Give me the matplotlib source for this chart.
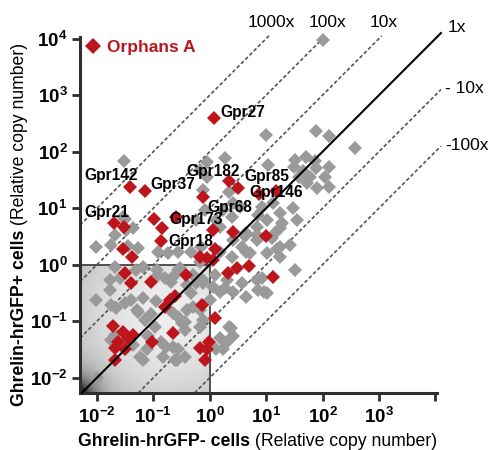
import numpy as np
import matplotlib
matplotlib.use("Agg")
import matplotlib.pyplot as plt
from matplotlib.lines import Line2D

plt.rcParams["font.family"] = ["Liberation Sans", "DejaVu Sans"]
plt.rcParams["mathtext.fontset"] = "custom"
plt.rcParams["mathtext.rm"] = "Liberation Sans"
plt.rcParams["mathtext.bf"] = "Liberation Sans:bold"
plt.rcParams["mathtext.it"] = "Liberation Sans:italic"

# log10 relative copy numbers
# (hrGFP- cells on x, hrGFP+ cells on y)
grey_neg = [2.00, -1.52, 0.99, 1.89, 2.11, 2.57, 0.27, 1.03, 1.52, 1.70,
            1.86, 1.50, 1.66, 1.89, 2.11, 1.77, 2.05, 1.91, 2.11, 1.73,
            1.59, 1.47, 1.24, 1.54, 0.92, 1.12, 0.85, 1.01, 0.83, 0.65,
            0.83, 1.24, 1.10, 1.24, 1.42, 0.58, 0.41, 0.18, 0.39, 0.53,
            0.23, 0.12, -0.12, -0.18, -0.05, 0.39, 0.71, 1.01, 1.24, 0.18,
            1.52, 0.92, 0.85, 0.97, 0.27, 0.09, -0.12, 0.00, -0.12, 0.37,
            0.18, 0.30, 0.23, 0.58, 0.62, 1.15, 1.29, 0.65, -1.50, -1.49,
            -2.02, -1.75, -1.45, -1.27, -0.92, -0.74, -0.57, -0.34, -0.16, -0.25,
            -0.09, -1.68, -1.36, -1.54, -1.68, -1.77, -1.59, -1.31, -1.19, -0.92,
            -0.80, -0.69, -0.57, -0.25, -2.02, -1.75, -1.66, -1.50, -1.40, -1.27,
            -1.04, -0.96, -1.15, -0.97, -0.57, -0.44, -0.34, -0.30, -1.75, -1.36,
            -1.24, -1.19, -0.87, -0.78, -0.57, -0.44, -0.44, -0.62, -2.00, -1.29,
            -1.19, -0.65, -0.41, -0.18, -0.50, -0.18, -1.10, -1.12, -0.65, -0.58,
            -0.83, -1.68, -1.47, 0.35, 0.41, 0.12, -0.94, -0.65, -0.53, -0.41,
            -0.30, -0.18, -0.12, 0.05, 0.18, 0.30, 0.41, 0.65, 0.83, 1.01,
            1.19, 0.83, -0.05, 0.41, 0.35, -1.77]
grey_pos = [3.98, 1.84, 2.30, 2.37, 2.27, 2.07, 1.88, 1.77, 1.86, 1.91,
            1.84, 1.73, 1.65, 1.72, 1.73, 1.56, 1.56, 1.35, 1.38, 1.45,
            1.56, 1.01, 0.92, 0.80, 1.03, 1.10, 0.88, 0.80, 0.67, 0.57,
            0.53, 0.65, 0.48, 0.32, 0.35, 0.32, 0.44, 0.67, 0.85, 1.03,
            0.97, 0.80, 1.33, 1.68, 1.56, 0.14, 0.21, 0.21, 0.14, 0.23,
            -0.09, -0.23, -0.44, -0.48, -0.42, -0.18, -0.27, -0.62, -0.97, -1.12,
            -1.29, -1.36, -1.50, -0.32, 0.50, 0.57, 0.74, 0.23, 0.81, 0.62,
            0.32, 0.35, 0.34, 0.30, 0.23, 0.21, 0.23, 0.23, 0.32, 0.80,
            0.97, 0.53, 0.65, 0.85, -0.04, -0.27, -0.23, -0.09, -0.04, -0.18,
            -0.23, -0.30, -0.09, -0.32, -0.62, -0.71, -0.76, -0.67, -0.62, -0.83,
            -0.88, -0.65, -0.97, -1.10, -0.92, -1.01, -0.50, -0.74, -1.33, -1.42,
            -1.63, -1.68, -1.36, -1.45, -1.50, -1.15, -1.63, -1.68, -2.00, -0.80,
            -0.58, -0.85, -0.80, -0.80, -1.03, -1.10, -1.27, -1.50, -1.45, -1.68,
            -1.63, -1.24, -1.45, -1.10, -1.27, -1.50, -0.09, -0.21, -0.05, -0.35,
            -0.18, 0.04, -0.32, -0.39, -0.48, -0.27, -0.48, -0.57, -0.27, -0.50,
            0.27, 0.44, 1.81, 1.10, 1.29, -0.44]

orphan_neg = [0.07, -1.42, -1.15, -1.70, -1.52, -0.99, -0.60, -0.85, -0.87, 0.34,
              0.51, -0.12, 0.87, 1.17, 0.05, 0.41, 0.99, 0.09, -0.18, -0.04,
              0.05, 0.32, 0.48, 0.69, 1.12, -0.14, 0.09, -0.18, -0.02, -0.09,
              -1.50, -1.40, -1.04, -0.42, -1.54, -1.38, -0.80, -0.71, -0.62, -1.72,
              -1.54, -1.45, -1.36, -1.63, -1.68, -1.50, -1.68, -1.03, -0.65, -0.05]
orphan_pos = [2.60, 1.38, 1.31, 0.74, 0.67, 0.81, 0.85, 0.65, 0.42, 1.49,
              1.35, 1.19, 1.26, 1.31, 0.62, 0.58, 0.50, 0.27, 0.14, 0.12,
              0.09, -0.14, -0.05, -0.02, -0.21, -0.71, -0.94, -1.47, -1.36, -1.68,
              -0.14, -0.32, -0.30, -0.18, 0.27, 0.14, -0.74, -0.62, -0.55, -1.08,
              -1.19, -1.29, -1.24, -1.36, -1.47, -1.49, -1.68, -1.36, -1.20, -1.50]

gene_names = ["Gpr27", "Gpr142", "Gpr37", "Gpr21", "Gpr173",
              "Gpr18", "Gpr182", "Gpr85", "Gpr146", "Gpr68"]
gene_text_x = [0.19, -2.23, -1.06, -2.23, -0.71, -0.73, -0.41, 0.62, 0.71, -0.05]
gene_text_y = [2.69, 1.58, 1.42, 0.92, 0.80, 0.41, 1.65, 1.56, 1.27, 1.01]

fold_changes = [1000, 100, 10, 1, 0.1, 0.01]
fold_names = ["1000x", "100x", "10x", "1x", "- 10x", "-100x"]

red = "#bd151c"
grey = "#9a9a9a"
dark = "#2e2e2e"
lo_x, lo_y, hi = -2.3, -2.27, 4.03
box_limit = 1.0

fig = plt.figure(figsize=(4.91, 4.50), dpi=100)
ax = fig.add_axes([80 / 491, 1 - 393 / 450, 357 / 491, 356 / 450])
ax.set_xscale("log")
ax.set_yscale("log")

# shaded "low expression" box with a radial gradient
fx = (np.log10(box_limit) - lo_x) / (hi - lo_x)
fy = (np.log10(box_limit) - lo_y) / (hi - lo_y)
u, v = np.meshgrid(np.linspace(0, 1, 200), np.linspace(0, 1, 200))
shade = 0.93 - 0.28 * np.hypot(u - 0.68, v - 0.62) ** 2
shade -= 0.8 * np.exp(-np.hypot(u, v) / 0.09)
ax.imshow(np.clip(shade, 0, 1), cmap="gray", vmin=0, vmax=1, origin="lower",
          extent=(0, fx, 0, fy), transform=ax.transAxes, aspect="auto",
          interpolation="bilinear", zorder=0)
ax.set_xlim(10 ** lo_x, 10 ** hi)
ax.set_ylim(10 ** lo_y, 10 ** hi)
ax.plot([10 ** lo_x, box_limit, box_limit], [box_limit, box_limit, 10 ** lo_y],
        color="#444444", lw=1.3, zorder=1)

# fold-change guide lines
for f, name in zip(fold_changes, fold_names):
    x0 = max(10 ** lo_x, 10 ** lo_y / f)
    if f == 1:
        x1 = y1 = 10 ** 4.1
        ax.plot([x0, x1], [x0, y1], color="black", lw=1.5, zorder=4,
                clip_on=False)
        ax.annotate(name, (x1, y1), xytext=(7, 6), textcoords="offset pixels",
                    ha="left", va="center", fontsize=12.5, annotation_clip=False)
        continue
    if f > 1:
        y1 = 10 ** 4.05
        x1 = y1 / f
        offset, ha = (2, 13), "center"
    else:
        x1 = 10 ** 4.1
        y1 = f * x1
        offset, ha = (4, 1), "left"
    ax.plot([x0, x1], [f * x0, y1], color="#555555", lw=1.2,
            ls=(0, (2.2, 1.4)), zorder=1, clip_on=False)
    ax.annotate(name, (x1, y1), xytext=offset, textcoords="offset pixels",
                ha=ha, va="center", fontsize=12.5, annotation_clip=False)

ax.plot(10 ** np.array(grey_neg), 10 ** np.array(grey_pos), ls="none",
        marker="D", ms=7.3, mew=0, color=grey, zorder=2, clip_on=False)
ax.plot(10 ** np.array(orphan_neg), 10 ** np.array(orphan_pos), ls="none",
        marker="D", ms=7.3, mew=0, color=red, zorder=3, clip_on=False)

for name, tx, ty in zip(gene_names, gene_text_x, gene_text_y):
    ax.text(10 ** tx, 10 ** ty, name, ha="left", va="center", fontsize=11.2,
            fontweight="bold", zorder=5)

handle = Line2D([], [], ls="none", marker="D", ms=8.5, mew=0, color=red)
ax.legend([handle], ["Orphans A"], loc="upper left", bbox_to_anchor=(0.0, 1.012),
          frameon=False, handlelength=0.7, handletextpad=0.45, borderaxespad=0,
          prop=dict(weight="bold", size=12.5), labelcolor=red)

# axes styling
for side in ("top", "right"):
    ax.spines[side].set_visible(False)
for side in ("left", "bottom"):
    ax.spines[side].set_linewidth(2.2)
    ax.spines[side].set_color(dark)
ax.set_facecolor("none")
ax.minorticks_off()
decades = np.arange(-2, 5)
ax.set_xticks(10.0 ** decades)
ax.set_xticklabels([r"$\mathbf{10^{%d}}$" % d if d < 4 else "" for d in decades])
ax.set_yticks(10.0 ** decades)
ax.set_yticklabels([r"$\mathbf{10^{%d}}$" % d for d in decades])
ax.tick_params(direction="out", length=6, width=2, color=dark, labelsize=13.5,
               pad=3)
ax.tick_params(axis="x", pad=4)
ax.set_xlim(10 ** lo_x, 10 ** hi)
ax.set_ylim(10 ** lo_y, 10 ** hi)

# axis titles: bold part followed by a regular part
xl = fig.text(78 / 491, 1 - 441 / 450, "Ghrelin-hrGFP- cells", ha="left",
              va="center", fontsize=12.7, fontweight="bold")
ax.annotate(" (Relative copy number)", xy=(1, 0), xycoords=xl, ha="left",
            va="bottom", fontsize=12.7, annotation_clip=False)
yl = fig.text(20 / 491, 1 - 406 / 450, "Ghrelin-hrGFP+ cells", ha="center",
              va="bottom", rotation=90, fontsize=12.7, fontweight="bold")
ax.annotate(" (Relative copy number)", xy=(0, 1), xycoords=yl, ha="left",
            va="bottom", rotation=90, fontsize=12.7, annotation_clip=False)

fig.savefig("out.png", dpi=100)
